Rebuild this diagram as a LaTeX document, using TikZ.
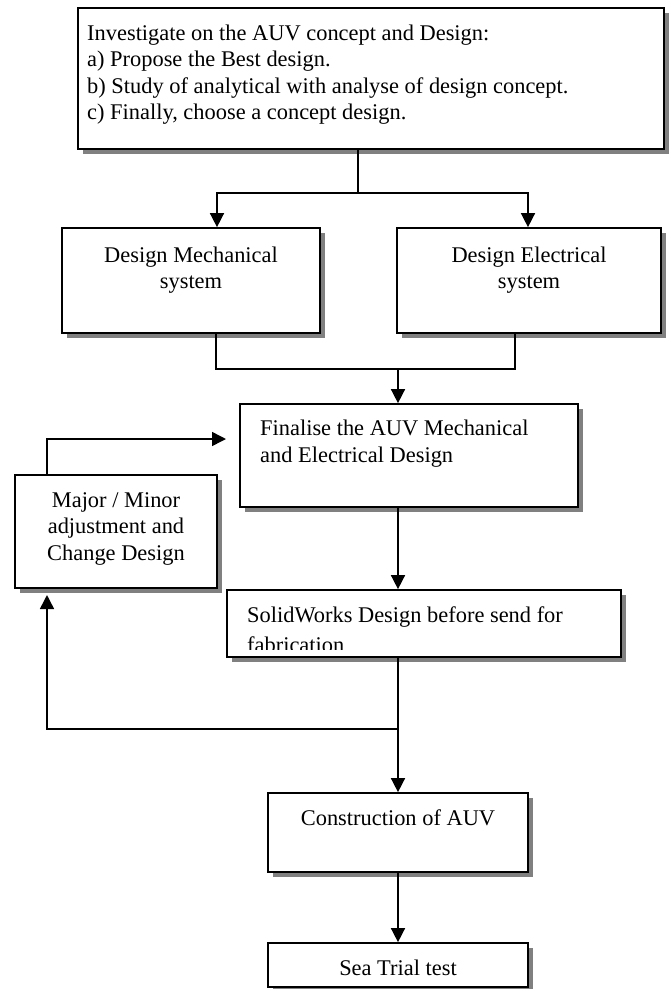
\documentclass[tikz,border=0pt]{standalone}
\usepackage{fontspec}
\setmainfont{Liberation Serif}
\usetikzlibrary{arrows.meta,shadows,calc}
\definecolor{shadowgray}{RGB}{128,128,128}
\begin{document}
\begin{tikzpicture}[x=1bp,y=-1bp,
  box/.style={draw, line width=1.7bp, fill=white, inner sep=0pt,
    drop shadow={shadow xshift=5bp, shadow yshift=-5bp, fill=shadowgray, opacity=1}},
  ln/.style={line width=1.5bp},
  arr/.style={ln, -{Triangle[length=14bp,width=14bp]}},
  txt/.style={inner sep=0pt, font=\fontsize{22.5}{26}\selectfont}]
\useasboundingbox (0,0) rectangle (671,989);

% boxes
\node[box, minimum width=586bp, minimum height=141bp] (top) at (371,78.5) {};
\node[box, minimum width=258bp, minimum height=105bp] (mech) at (191,280.5) {};
\node[box, minimum width=264bp, minimum height=105bp] (elec) at (529,280.5) {};
\node[box, minimum width=338bp, minimum height=103bp] (fin) at (409,455.5) {};
\node[box, minimum width=202bp, minimum height=113bp] (maj) at (116,531.5) {};
\node[box, minimum width=394bp, minimum height=67bp] (sw) at (424,623.5) {};
\node[box, minimum width=260bp, minimum height=79bp] (con) at (398,832.5) {};
\node[box, minimum width=260bp, minimum height=44bp] (sea) at (398,965) {};

% texts
\node[txt, anchor=base west] (t1) at (87,40) {Investigate on the AUV concept and Design:};
\node[txt, anchor=base west] (t2) at (87,66.5) {a) Propose the Best design.};
\node[txt, anchor=base west] (t3) at (87,93) {b) Study of analytical with analyse of design concept.};
\node[txt, anchor=base west] (t4) at (87,119.5) {c) Finally, choose a concept design.};

\node[txt, anchor=base] (m1) at (191,262) {Design Mechanical};
\node[txt, anchor=base] (m2) at (191,288) {system};
\node[txt, anchor=base] (e1) at (529,262) {Design Electrical};
\node[txt, anchor=base] (e2) at (529,288) {system};

\node[txt, anchor=base west] (f1) at (260,435) {Finalise the AUV Mechanical};
\node[txt, anchor=base west] (f2) at (260,462) {and Electrical Design};

\node[txt, anchor=base] (a1) at (116,507) {Major / Minor};
\node[txt, anchor=base] (a2) at (116,533) {adjustment and};
\node[txt, anchor=base] (a3) at (116,560) {Change Design};

\begin{scope}
\clip (228,591) rectangle (620,649);
\node[txt, anchor=base west] (s1) at (247,622) {SolidWorks Design before send for};
\node[txt, anchor=base west] (s2) at (247,652) {fabrication};
\end{scope}

\node[txt, anchor=base] (c1) at (398,825) {Construction of AUV};
\node[txt, anchor=base] (q1) at (398,975) {Sea Trial test};

% connectors
\coordinate (j1) at (358,193);
\coordinate (mx) at (217,0);
\coordinate (ex) at (528,0);
\draw[ln] (top.south -| j1) -- (j1);
\draw[arr] (j1) -| (mech.north -| mx);
\draw[arr] (j1) -| (elec.north -| ex);

\coordinate (j2) at (398,369);
\coordinate (mbx) at (216,0);
\coordinate (ebx) at (515,0);
\draw[ln] (mech.south -| mbx) |- (j2);
\draw[ln] (elec.south -| ebx) |- (j2);
\draw[arr] (j2) -- (fin.north -| j2);

\draw[arr] (fin.south -| j2) -- (sw.north -| j2);

\coordinate (j3) at (398,729);
\draw[ln] (sw.south -| j3) -- (j3);
\draw[arr] (j3) -- (con.north -| j3);

\coordinate (fx) at (47,0);
\coordinate (fbend) at (47,595);
\draw[arr] (j3) -| (fbend);
\coordinate (j4) at (226,439);
\draw[arr] (maj.north -| fx) |- (j4);

\draw[arr] (con.south) -- (sea.north);
\end{tikzpicture}
\end{document}
